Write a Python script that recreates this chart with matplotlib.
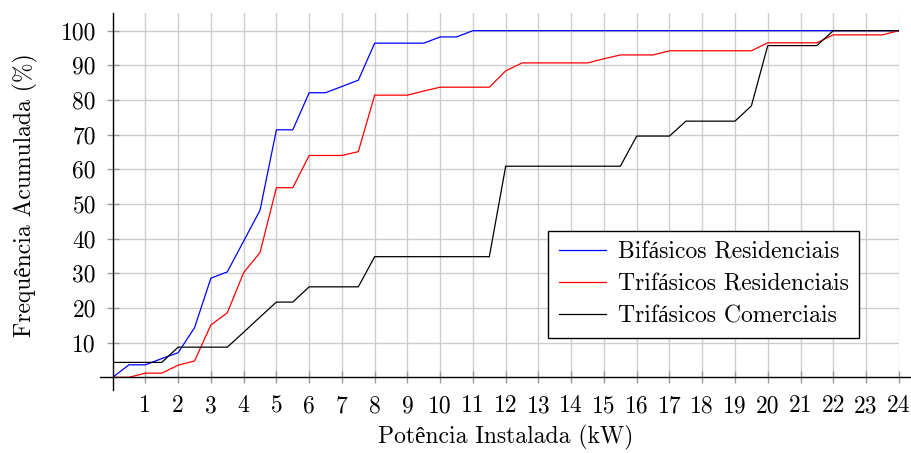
import matplotlib
matplotlib.use("Agg")
import matplotlib.pyplot as plt

# potencia instalada (kW), passos de 0.5
potencia_kw = [0, 0.5, 1, 1.5, 2, 2.5, 3, 3.5, 4, 4.5, 5, 5.5, 6, 6.5, 7, 7.5,
               8, 8.5, 9, 9.5, 10, 10.5, 11, 11.5, 12, 12.5, 13, 13.5, 14, 14.5,
               15, 15.5, 16, 16.5, 17, 17.5, 18, 18.5, 19, 19.5, 20, 20.5, 21,
               21.5, 22, 22.5, 23, 23.5, 24]

# frequencia acumulada (%)
bif_res = [0, 3.6, 3.6, 5.4, 7.1, 14.3, 28.6, 30.4, 39.3, 48.2, 71.4, 71.4,
           82.1, 82.1, 83.9, 85.7, 96.4, 96.4, 96.4, 96.4, 98.2, 98.2, 100,
           100, 100, 100, 100, 100, 100, 100, 100, 100, 100, 100, 100, 100,
           100, 100, 100, 100, 100, 100, 100, 100, 100, 100, 100, 100, 100]
tri_res = [0, 0, 1.2, 1.2, 3.5, 4.7, 15.1, 18.6, 30.2, 36.0, 54.7, 54.7,
           64.0, 64.0, 64.0, 65.1, 81.4, 81.4, 81.4, 82.6, 83.7, 83.7, 83.7,
           83.7, 88.4, 90.7, 90.7, 90.7, 90.7, 90.7, 91.9, 93.0, 93.0, 93.0,
           94.2, 94.2, 94.2, 94.2, 94.2, 94.2, 96.5, 96.5, 96.5, 96.5, 98.8,
           98.8, 98.8, 98.8, 100]
tri_com = [4.3, 4.3, 4.3, 4.3, 8.7, 8.7, 8.7, 8.7, 13.0, 17.4, 21.7, 21.7,
           26.1, 26.1, 26.1, 26.1, 34.8, 34.8, 34.8, 34.8, 34.8, 34.8, 34.8,
           34.8, 60.9, 60.9, 60.9, 60.9, 60.9, 60.9, 60.9, 60.9, 69.6, 69.6,
           69.6, 73.9, 73.9, 73.9, 73.9, 78.3, 95.7, 95.7, 95.7, 95.7, 100,
           100, 100, 100, 100]

series_labels = ["Bifásicos Residenciais", "Trifásicos Residenciais",
                 "Trifásicos Comerciais"]
x_ticks = list(range(1, 25))
y_ticks = list(range(10, 101, 10))

# cmr10 nao tem acentos, Liberation Serif cobre o resto
plt.rcParams["font.family"] = ["cmr10", "Liberation Serif"]
plt.rcParams["mathtext.fontset"] = "cm"
plt.rcParams["axes.unicode_minus"] = False

fig = plt.figure(figsize=(9.12, 4.53), dpi=100)
ax = fig.add_axes([0.1235, 0.1671, 0.8620, 0.8042])

ax.plot(potencia_kw, bif_res, color="blue", lw=0.9, label=series_labels[0])
ax.plot(potencia_kw, tri_res, color="red", lw=0.9, label=series_labels[1])
ax.plot(potencia_kw, tri_com, color="black", lw=0.9, label=series_labels[2])

ax.set_xlim(0, 24)
ax.set_ylim(0, 105.1)

# eixos no estilo "axis lines = middle"
for side in ["top", "right"]:
    ax.spines[side].set_visible(False)
ax.spines["left"].set_position(("data", 0))
ax.spines["bottom"].set_position(("data", 0))
ax.spines["left"].set_bounds(-3.7, 105.1)
ax.spines["bottom"].set_bounds(-0.38, 24.4)
for side in ["left", "bottom"]:
    ax.spines[side].set_linewidth(1.0)
    ax.spines[side].set_zorder(5)

ax.set_xticks(x_ticks)
ax.set_xticklabels([str(t) for t in x_ticks])
ax.set_yticks(y_ticks)
ax.set_yticklabels([str(t) for t in y_ticks])
ax.tick_params(direction="inout", length=8, width=1.0, color="#9a9a9a",
               labelsize=17)
ax.tick_params(axis="y", pad=8)
ax.tick_params(axis="x", pad=9)

ax.grid(True, color="#cccccc", lw=1.0)
ax.set_axisbelow(True)

ax.set_xlabel("Potência Instalada (kW)", fontsize=17)
ax.set_ylabel("Frequência Acumulada (%)", fontsize=17)
ax.xaxis.set_label_coords(0.5, -0.13)
ax.yaxis.set_label_coords(-0.095, 0.5)

leg = ax.legend(loc="lower right", bbox_to_anchor=(0.950, 0.107),
                borderaxespad=0, fontsize=17, handlelength=2.0,
                handletextpad=0.5, labelspacing=0.42, borderpad=0.45,
                fancybox=False, framealpha=1, edgecolor="black")
leg.get_frame().set_linewidth(1.0)

fig.savefig("out.png", dpi=100)
